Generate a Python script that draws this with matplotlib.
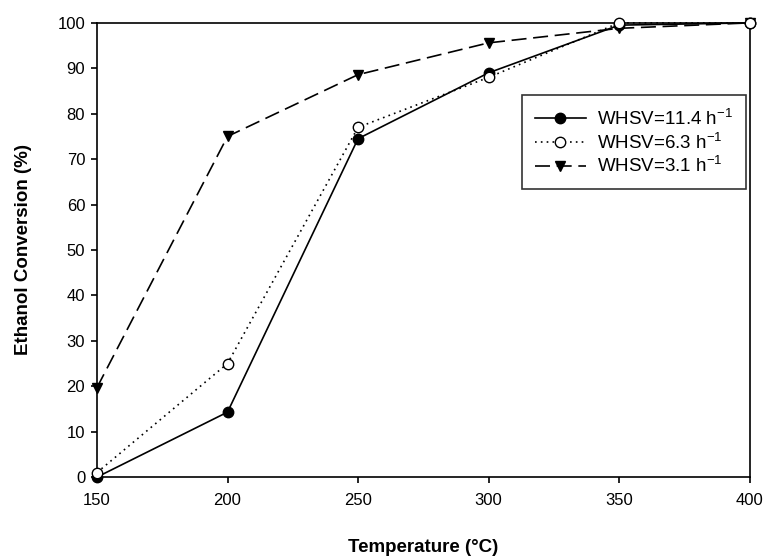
import matplotlib
matplotlib.use("Agg")
import matplotlib.pyplot as plt

plt.rcParams['font.family'] = ['Liberation Sans', 'DejaVu Sans']
plt.rcParams['mathtext.fontset'] = 'custom'
plt.rcParams['mathtext.rm'] = 'Liberation Sans'

temperature = [150, 200, 250, 300, 350, 400]
conv_114 = [0, 14.3, 74.5, 89, 99.5, 100]
conv_63 = [1, 25, 77, 88, 100, 100]
conv_31 = [19.7, 75, 88.6, 95.6, 98.8, 100]
labels = ['WHSV=11.4 h$^{\\mathregular{-1}}$', 'WHSV=6.3 h$^{\\mathregular{-1}}$', 'WHSV=3.1 h$^{\\mathregular{-1}}$']
xticks = [150, 200, 250, 300, 350, 400]
yticks = list(range(0, 101, 10))

fig = plt.figure(figsize=(7.66, 5.58), dpi=100)
ax = fig.add_axes([0.1266, 0.145, 0.852, 0.814])

ax.plot(temperature, conv_114, color='black', linestyle='-', linewidth=1.2,
        marker='o', markersize=7.5, markerfacecolor='black', markeredgecolor='black', label=labels[0], clip_on=False, zorder=3)
ax.plot(temperature, conv_63, color='black', linestyle=(0, (1, 2.5)), linewidth=1.2,
        marker='o', markersize=7.5, markerfacecolor='white', markeredgecolor='black', label=labels[1], clip_on=False, zorder=4)
ax.plot(temperature, conv_31, color='black', linestyle=(0, (9, 4)), linewidth=1.2,
        marker='v', markersize=7.5, markerfacecolor='black', markeredgecolor='black', label=labels[2], clip_on=False, zorder=3)

ax.set_xlim(150, 400)
ax.set_ylim(0, 100)
ax.set_xticks(xticks)
ax.set_yticks(yticks)
ax.tick_params(direction='out', length=4.5, width=1.2, labelsize=12, colors='black')
ax.tick_params(axis='x', top=False, pad=7)
ax.tick_params(axis='y', right=False, pad=4)
for s in ax.spines.values():
    s.set_linewidth(1.2)

ax.set_xlabel('Temperature (°C)', fontsize=13.5, fontweight='bold', labelpad=22)
ax.set_ylabel('Ethanol Conversion (%)', fontsize=13.5, fontweight='bold', labelpad=18)

leg = ax.legend(loc='upper left', bbox_to_anchor=(522/766, 1-95/558), bbox_transform=fig.transFigure,
                borderaxespad=0, frameon=True, fancybox=False, edgecolor='black', fontsize=13.5,
                handlelength=2.7, handletextpad=0.6, borderpad=0.7, labelspacing=0.15)
leg.get_frame().set_linewidth(1.2)

fig.savefig('out.png', dpi=100)
